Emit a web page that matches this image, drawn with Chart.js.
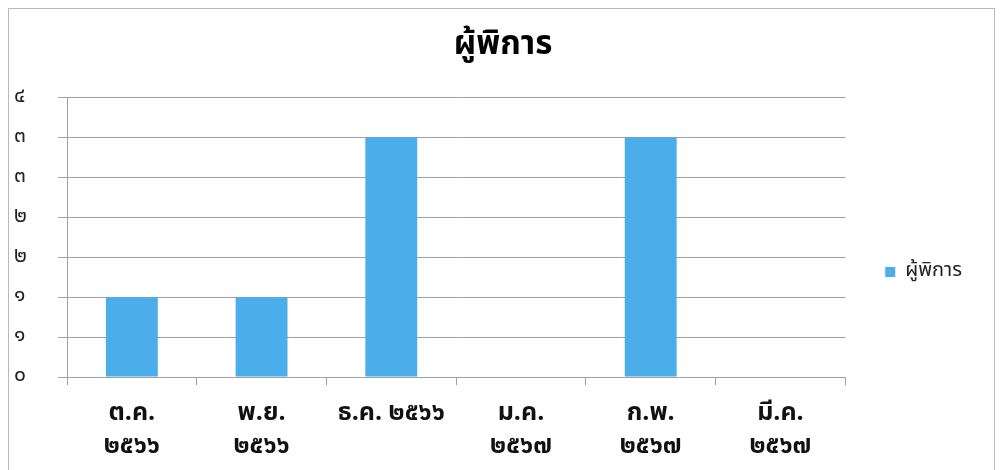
<!DOCTYPE html>
<html lang="th">
<head>
<meta charset="utf-8">
<title>ผู้พิการ</title>
<script src="https://cdn.jsdelivr.net/npm/chart.js@4/dist/chart.umd.min.js"></script>
<style>
  html, body { margin: 0; padding: 0; background: #fff; }
  .wrap { position: relative; width: 1000px; height: 470px; overflow: hidden; }
  .frame {
    position: absolute; left: 8px; top: 8px; width: 987px; height: 470px;
    border: 1px solid #b8b8b8; box-sizing: border-box;
  }
  canvas { position: absolute; left: 0; top: 0; }
</style>
</head>
<body>
<div class="wrap">
  <div class="frame"></div>
  <canvas id="chart" width="1000" height="470"></canvas>
</div>
<script>
  /* ── Data ── */
  const months = [
    ['ต.ค.', '๒๕๖๖'],
    ['พ.ย.', '๒๕๖๖'],
    ['ธ.ค. ๒๕๖๖'],
    ['ม.ค.', '๒๕๖๗'],
    ['ก.พ.', '๒๕๖๗'],
    ['มี.ค.', '๒๕๖๗']
  ];
  const disabledCounts = [1, 1, 3, 0, 3, 0];
  const yTickLabels = ['๐', '๑', '๑', '๒', '๒', '๓', '๓', '๔'];

  const seriesName = 'ผู้พิการ';
  const barBlue = '#4badea';
  const gridGray = '#a0a0a0';
  const thaiFont = "'Noto Sans Thai', Tahoma, 'Noto Sans', sans-serif";

  // Excel-style placement: legend sits a bit lower, title a bit right of centre
  const boxNudge = {
    id: 'boxNudge',
    afterLayout(chart) {
      const lg = chart.legend, tt = chart.titleBlock;
      if (lg) { lg.top += 26; lg.bottom += 26; }
      if (tt) { tt.left += 10; tt.right += 10; }
    }
  };

  new Chart(document.getElementById('chart'), {
    type: 'bar',
    data: {
      labels: months,
      datasets: [{
        label: seriesName,
        data: disabledCounts,
        backgroundColor: barBlue,
        barPercentage: 0.4,
        categoryPercentage: 1.0,
      }]
    },
    options: {
      responsive: false,
      animation: false,
      layout: { padding: { left: 14, right: 28, top: 22, bottom: 0 } },
      plugins: {
        title: {
          display: true,
          text: seriesName,
          color: '#000',
          font: { family: thaiFont, size: 33, weight: 'bold', lineHeight: 1.2 },
          padding: { top: 6, bottom: 30 },
        },
        legend: {
          position: 'right',
          labels: {
            color: '#222',
            font: { family: thaiFont, size: 20 },
            boxWidth: 10,
            boxHeight: 10,
            padding: 40,
          }
        },
        tooltip: { enabled: false }
      },
      scales: {
        x: {
          afterFit: (s) => { s.height = 93; },
          grid: {
            display: true,
            drawOnChartArea: false,
            drawTicks: true,
            tickLength: 8,
            color: gridGray,
          },
          border: { color: gridGray },
          ticks: {
            color: '#111',
            font: { family: thaiFont, size: 25, weight: 'bold', lineHeight: 1.3 },
            maxRotation: 0,
            autoSkip: false,
            padding: 14,
          }
        },
        y: {
          min: 0,
          max: 3.5,
          afterFit: (s) => { s.width = 53; },
          grid: { color: gridGray, tickLength: 9 },
          border: { color: gridGray },
          ticks: {
            stepSize: 0.5,
            color: '#222',
            crossAlign: 'far',
            font: { family: thaiFont, size: 21 },
            callback: (v, i) => yTickLabels[i],
          }
        }
      }
    },
    plugins: [boxNudge]
  });
</script>
</body>
</html>
